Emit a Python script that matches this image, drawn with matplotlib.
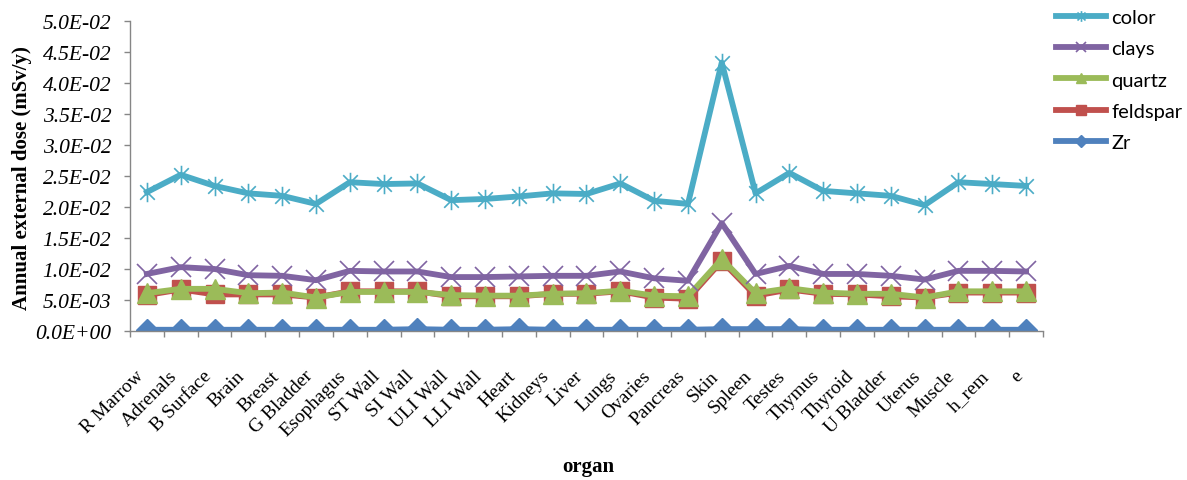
import matplotlib
matplotlib.use("Agg")
import matplotlib.pyplot as plt
import matplotlib.transforms as mtransforms
from matplotlib.path import Path
from matplotlib.ticker import FuncFormatter, FixedLocator
import numpy as np

organs = ["R Marrow", "Adrenals", "B Surface", "Brain", "Breast", "G Bladder",
          "Esophagus", "ST Wall", "SI Wall", "ULI Wall", "LLI Wall", "Heart",
          "Kidneys", "Liver", "Lungs", "Ovaries", "Pancreas", "Skin", "Spleen",
          "Testes", "Thymus", "Thyroid", "U Bladder", "Uterus", "Muscle",
          "h_rem", "e"]

color_vals = [0.0224, 0.0252, 0.0234, 0.0222, 0.0218, 0.0205, 0.0240, 0.0237,
              0.0238, 0.0211, 0.0213, 0.0217, 0.0222, 0.0221, 0.0238, 0.0210,
              0.0205, 0.0433, 0.0222, 0.0255, 0.0226, 0.0222, 0.0218, 0.0203,
              0.0240, 0.0237, 0.0234]
clays_vals = [0.0092, 0.0103, 0.0100, 0.0090, 0.0089, 0.0082, 0.0097, 0.0096,
              0.0096, 0.0087, 0.0087, 0.0088, 0.0089, 0.0089, 0.0096, 0.0085,
              0.0081, 0.0174, 0.0092, 0.0105, 0.0092, 0.0092, 0.0089, 0.0083,
              0.0097, 0.0097, 0.0096]
quartz_vals = [0.0061, 0.0068, 0.0068, 0.0061, 0.0062, 0.0054, 0.0063, 0.0063,
               0.0063, 0.0058, 0.0057, 0.0057, 0.0060, 0.0061, 0.0065, 0.0057,
               0.0056, 0.0116, 0.0061, 0.0069, 0.0062, 0.0060, 0.0060, 0.0054,
               0.0064, 0.0064, 0.0064]
feldspar_vals = [0.0058, 0.0067, 0.0059, 0.0059, 0.0059, 0.0054, 0.0064, 0.0064,
                 0.0064, 0.0056, 0.0056, 0.0056, 0.0060, 0.0060, 0.0064, 0.0054,
                 0.0052, 0.0113, 0.0057, 0.0067, 0.0060, 0.0059, 0.0056, 0.0054,
                 0.0062, 0.0062, 0.0062]
zr_vals = [0.0002, 0.0002, 0.0002, 0.0002, 0.0002, 0.0002, 0.0002, 0.0002,
           0.0003, 0.0002, 0.0002, 0.0003, 0.0002, 0.0002, 0.0002, 0.0002,
           0.0002, 0.0003, 0.0003, 0.0003, 0.0002, 0.0002, 0.0002, 0.0002,
           0.0002, 0.0002, 0.0002]

y_ticks = [i * 0.005 for i in range(11)]

C_COLOR = "#4BACC6"
C_CLAYS = "#8064A2"
C_QUARTZ = "#9BBB59"
C_FELD = "#C0504D"
C_ZR = "#4F81BD"

# Excel-like star marker: X plus vertical bar
star = Path([(0, -1), (0, 1), (-0.75, -0.75), (0.75, 0.75), (-0.75, 0.75), (0.75, -0.75)],
            [Path.MOVETO, Path.LINETO, Path.MOVETO, Path.LINETO, Path.MOVETO, Path.LINETO])

W, H = 1187, 481
fig = plt.figure(figsize=(W / 100, H / 100), dpi=100)
ax = fig.add_axes([130 / W, 1 - 332 / H, (1043 - 130) / W, (332 - 22) / H])

x = np.arange(len(organs))
lw = 4.2
ax.plot(x, zr_vals, color=C_ZR, lw=lw, marker="D", ms=11.5, mfc=C_ZR, mec=C_ZR, label="Zr", zorder=2)
ax.plot(x, feldspar_vals, color=C_FELD, lw=lw, marker="s", ms=13.5, mfc=C_FELD, mec=C_FELD, label="feldspar", zorder=3)
ax.plot(x, quartz_vals, color=C_QUARTZ, lw=lw, marker="^", ms=14, mfc=C_QUARTZ, mec=C_QUARTZ, label="quartz", zorder=4)
ax.plot(x, clays_vals, color=C_CLAYS, lw=lw, marker="x", ms=14, mew=1.2, mec=C_CLAYS, label="clays", zorder=5)
ax.plot(x, color_vals, color=C_COLOR, lw=lw, marker=star, ms=14, mew=1.2, mec=C_COLOR, label="color", zorder=6)

ax.set_xlim(-0.5, len(organs) - 0.5)
ax.set_ylim(0, 0.05)
ax.yaxis.set_major_locator(FixedLocator(y_ticks))
ax.yaxis.set_major_formatter(FuncFormatter(lambda v, p: "{:.1E}".format(v)))
ax.xaxis.set_major_locator(FixedLocator(np.arange(-0.5, len(organs), 1.0)))
ax.set_xticklabels([])

for s in ["top", "right"]:
    ax.spines[s].set_visible(False)
for s in ["left", "bottom"]:
    ax.spines[s].set_color("#868686")
    ax.spines[s].set_linewidth(1.0)
ax.tick_params(axis="both", direction="out", color="#868686", length=4.5, width=1.0)
ax.tick_params(axis="y", pad=9, labelsize=15.5)
for t in ax.get_yticklabels():
    t.set_fontfamily("Liberation Serif")
    t.set_fontstyle("italic")

# category labels
trans = mtransforms.blended_transform_factory(ax.transData, ax.transAxes)
for i, name in enumerate(organs):
    off = mtransforms.ScaledTranslation(-12 / 100, -36 / 100, fig.dpi_scale_trans)
    ax.text(i, 0, name, transform=trans + off, rotation=45, ha="right", va="top",
            rotation_mode="anchor", fontsize=14, fontfamily="Liberation Serif")

fig.text(22 / W, 1 - 178 / H, "Annual external dose (mSv/y)", rotation=90, ha="center", va="center",
         fontsize=15, fontweight="bold", fontfamily="Liberation Serif")
fig.text(588 / W, 1 - 467 / H, "organ", ha="center", va="center",
         fontsize=15, fontweight="bold", fontfamily="Liberation Serif")

handles, labels = ax.get_legend_handles_labels()
order = [4, 3, 2, 1, 0]
leg = fig.legend([handles[i] for i in order], [labels[i] for i in order],
                 loc="upper left", bbox_to_anchor=(1048 / W, 1 - 2 / H), frameon=False,
                 prop={"family": "Lato", "size": 14.5}, handlelength=2.5, markerscale=0.55,
                 labelspacing=0.7, handletextpad=0.25, borderaxespad=0)

fig.savefig("out.png", dpi=100)
